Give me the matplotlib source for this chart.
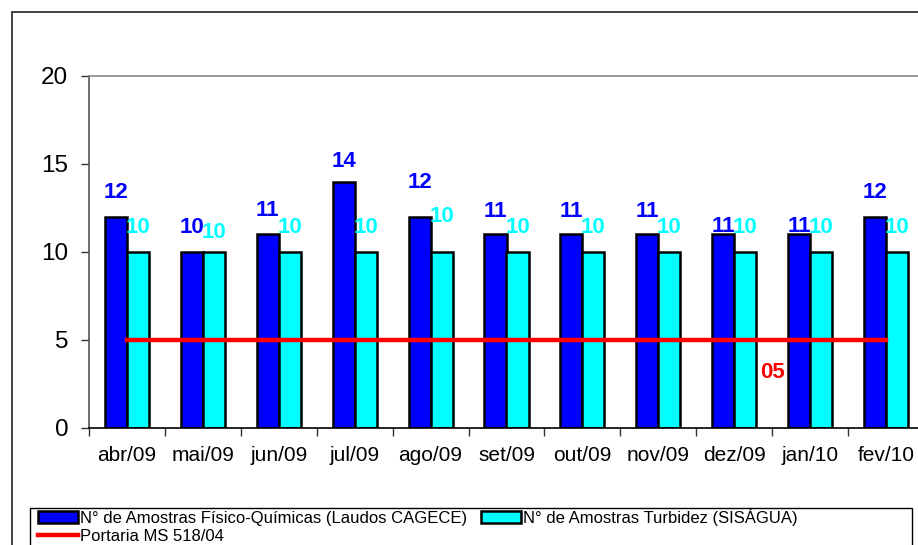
import matplotlib.pyplot as plt
from matplotlib.patches import Rectangle
import numpy as np

plt.rcParams['font.family'] = ['Liberation Sans', 'DejaVu Sans']

months = ["abr/09", "mai/09", "jun/09", "jul/09", "ago/09", "set/09",
          "out/09", "nov/09", "dez/09", "jan/10", "fev/10"]
fisico_quimicas = [12, 10, 11, 14, 12, 11, 11, 11, 11, 11, 12]
turbidez = [10, 10, 10, 10, 10, 10, 10, 10, 10, 10, 10]
portaria = [5, 5, 5, 5, 5, 5, 5, 5, 5, 5, 5]

label_fq = "N° de Amostras Físico-Químicas (Laudos CAGECE)"
label_tb = "N° de Amostras Turbidez (SISÁGUA)"
label_pt = "Portaria MS 518/04"

# how far above each bar the value labels sit (Excel placed them unevenly)
lift_fq = [1.37, 1.39, 1.35, 1.13, 1.94, 1.3, 1.3, 1.3, 0.44, 0.44, 1.37]
lift_tb = [1.39, 1.1, 1.39, 1.39, 2.0, 1.39, 1.39, 1.39, 1.39, 1.39, 1.39]

BLUE = "#0000FF"
CYAN = "#00FFFF"
RED = "#FF0000"

fig = plt.figure(figsize=(9.18, 5.45), dpi=100)
ax = fig.add_axes([89 / 918, 1 - 428 / 545, 835 / 918, 352 / 545])

x = np.arange(len(months))
w = 0.29
b1 = ax.bar(x - w / 2, fisico_quimicas, w, color=BLUE, edgecolor="black",
            linewidth=1.8, label=label_fq, zorder=2)
b2 = ax.bar(x + w / 2, turbidez, w, color=CYAN, edgecolor="black",
            linewidth=1.8, label=label_tb, zorder=2)
ln, = ax.plot(x, portaria, color=RED, linewidth=3.2, label=label_pt, zorder=3)

for i in range(len(months)):
    ax.text(x[i] - w / 2, fisico_quimicas[i] + lift_fq[i], str(fisico_quimicas[i]),
            color=BLUE, fontsize=16, fontweight="bold", ha="center", va="center")
    ax.text(x[i] + w / 2, turbidez[i] + lift_tb[i], str(turbidez[i]),
            color=CYAN, fontsize=16, fontweight="bold", ha="center", va="center")

ax.text(8.5, portaria[8] - 1.85, "05", color=RED, fontsize=16,
        fontweight="bold", ha="center", va="center")

ax.set_xlim(-0.5, len(months) - 0.5)
ax.set_ylim(0, 20)
ax.set_yticks([0, 5, 10, 15, 20])
ax.tick_params(axis="y", direction="out", length=6, width=1, pad=9,
               labelsize=17.5, color="#333333")
ax.set_xticks(x)
ax.set_xticklabels(months)
ax.tick_params(axis="x", which="major", length=0, pad=13, labelsize=15)
ax.set_xticks(np.arange(len(months) + 1) - 0.5, minor=True)
ax.tick_params(axis="x", which="minor", direction="out", length=6, width=1,
               color="#333333")

ax.spines["left"].set_color("#555555")
ax.spines["bottom"].set_color("black")
ax.spines["top"].set_color("#888888")
ax.spines["right"].set_visible(False)
for s in ax.spines.values():
    s.set_linewidth(1.2)

# outer chart frame and legend frame
fig.patches.append(Rectangle((12 / 918, -0.01), 1.0, 1 - 12 / 545 + 0.01,
                             transform=fig.transFigure, fill=False,
                             edgecolor="#333333", linewidth=1.3))
fig.patches.append(Rectangle((30 / 918, -0.01), 882 / 918, 37 / 545 + 0.01,
                             transform=fig.transFigure, fill=False,
                             edgecolor="black", linewidth=1.0))

fig.legend([b1, ln, b2], [label_fq, label_pt, label_tb], ncol=2,
           loc="upper left", bbox_to_anchor=(38 / 918, 1 - 508 / 545),
           frameon=False, fontsize=12, handlelength=2.4, handletextpad=0.15,
           columnspacing=0.8, labelspacing=0.2, borderpad=0, borderaxespad=0)

fig.savefig("out.png", dpi=100)
